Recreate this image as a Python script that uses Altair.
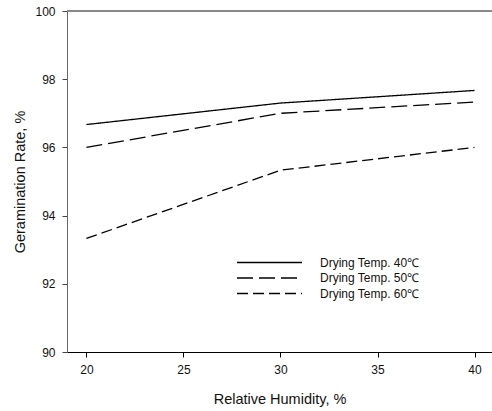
import altair as alt
import pandas as pd

humidity = [20, 30, 40]
series = ["Drying Temp. 40℃", "Drying Temp. 50℃", "Drying Temp. 60℃"]
rate_40 = [96.67, 97.30, 97.67]
rate_50 = [96.00, 97.00, 97.33]
rate_60 = [93.33, 95.33, 96.00]
x_ticks = [20, 25, 30, 35, 40]
y_ticks = [90, 92, 94, 96, 98, 100]

rows = []
for name, vals in zip(series, [rate_40, rate_50, rate_60]):
    for h, v in zip(humidity, vals):
        rows.append({"humidity": h, "rate": v, "series": name})
df = pd.DataFrame(rows)

FONT = "Liberation Sans"
W = 425
H = 341

lines = alt.Chart(df).mark_line(color="black", strokeWidth=1.3, clip=True).encode(
    x=alt.X("humidity:Q",
            scale=alt.Scale(domain=[19, 40.9], nice=False, zero=False),
            axis=alt.Axis(values=x_ticks, title="Relative Humidity, %", grid=False,
                          domainColor="black", tickColor="black", tickSize=5,
                          labelPadding=7, labelFontSize=12, labelColor="#111",
                          titleFontSize=14.5, titleFontWeight="normal", titleColor="#111",
                          titleBaseline="middle", titleY=47)),
    y=alt.Y("rate:Q",
            scale=alt.Scale(domain=[90, 100], nice=False, zero=False),
            axis=alt.Axis(values=y_ticks, title="Geramination Rate, %", grid=False,
                          domainColor="#666", tickColor="#444", tickSize=5,
                          labelPadding=7, labelFontSize=12, labelColor="#111",
                          titleFontSize=14.5, titleFontWeight="normal", titleColor="#111",
                          titleBaseline="middle", titleX=-47, titleAngle=-90)),
    strokeDash=alt.StrokeDash("series:N",
        scale=alt.Scale(domain=series, range=[[1, 0], [16, 6], [11, 5]]),
        legend=alt.Legend(title=None, orient="none", legendX=195, legendY=244,
                          symbolType="M-5,0H5", symbolSize=169, symbolStrokeWidth=1.3,
                          symbolStrokeColor="black", symbolFillColor="transparent",
                          labelOffset=43, rowPadding=1.5,
                          padding=0, labelFontSize=12, labelColor="#111", labelFont=FONT)),
)

top_border = alt.Chart(df).mark_rule(color="#888", strokeWidth=1).encode(
    x=alt.value(0), x2=alt.value(W), y=alt.value(0)
)

chart = alt.layer(top_border, lines).properties(
    width=W, height=H,
    autosize=alt.AutoSizeParams(type="none"),
    padding={"left": 67, "top": 11, "right": 0, "bottom": 59},
).configure_view(stroke=None).configure(font=FONT, background="white")

chart.save("out.html", embed_options={"renderer": "svg", "actions": False})
